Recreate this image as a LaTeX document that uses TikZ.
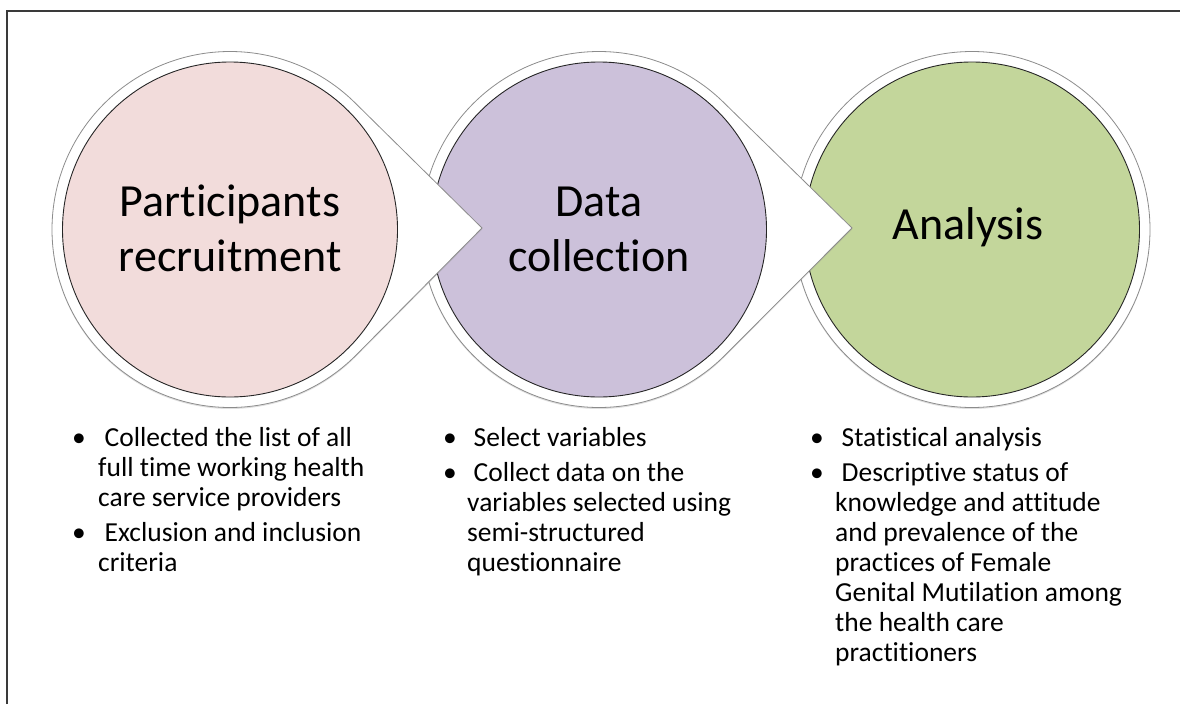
\documentclass[tikz,border=0pt]{standalone}
\usepackage{fontspec}
\setmainfont{Carlito}[Ligatures=NoCommon]
\usetikzlibrary{shadows}
\definecolor{pinkfill}{HTML}{F2DCDB}
\definecolor{purplefill}{HTML}{CCC1DA}
\definecolor{greenfill}{HTML}{C3D69B}
\definecolor{ringline}{HTML}{8C8C8C}
\definecolor{frameline}{HTML}{3A3A3A}
\begin{document}
\begin{tikzpicture}[x=1pt,y=-1pt,
  ringshape/.style={fill=white, draw=ringline, line width=0.8pt,
    drop shadow={opacity=0.25, shadow xshift=0pt, shadow yshift=-1.5pt}},
  innercircle/.style={draw=black!85, line width=0.9pt, circle, minimum size=335pt, inner sep=0pt},
  titletext/.style={font=\fontsize{46}{56}\selectfont, anchor=base, inner sep=0pt},
  linetext/.style={font=\fontsize{27.5}{30}\selectfont, anchor=base west, inner sep=0pt},
  bulletdot/.style={font=\fontsize{27.5}{30}\selectfont, anchor=base, inner sep=0pt},
]
\useasboundingbox (0,0) rectangle (1180,704);
% frame
\coordinate (fa) at (7,704);
\coordinate (fb) at (7,11);
\coordinate (fc) at (1180,11);
\draw[frameline, line width=1.3pt] (fa) -- (fb) -- (fc);

% centres and tips
\coordinate (c1) at (230,229.5);
\coordinate (c2) at (599,229.5);
\coordinate (c3) at (972,229.5);
\coordinate (t1) at (482,228);
\coordinate (t2) at (852,228);

% circle 3
\path[ringshape] (c3) circle[radius=178];
\node[innercircle, fill=greenfill] (n3) at (c3) {};
% circle 2 with pointer
\path[ringshape] (c2) ++(45:178) arc[start angle=45, end angle=315, radius=178] -- (t2) -- cycle;
\node[innercircle, fill=purplefill] (n2) at (c2) {};
% circle 1 with pointer
\path[ringshape] (c1) ++(45:178) arc[start angle=45, end angle=315, radius=178] -- (t1) -- cycle;
\node[innercircle, fill=pinkfill] (n1) at (c1) {};

% titles
\node[titletext] (h1a) at (230,216) {Participants};
\node[titletext] (h1b) at (230,271) {recruitment};
\node[titletext] (h2a) at (599,216) {Data};
\node[titletext] (h2b) at (599,271) {collection};
\node[titletext] (h3a) at (968,239) {Analysis};

% column 1
\node[bulletdot] (b11) at (79,446) {•};
\node[linetext] (l11) at (104.5,446) {Collected the list of all};
\node[linetext] (l12) at (98,476) {full time working health};
\node[linetext] (l13) at (98,506) {care service providers};
\node[bulletdot] (b12) at (79,541) {•};
\node[linetext] (l14) at (104.5,541) {Exclusion and inclusion};
\node[linetext] (l15) at (98,571) {criteria};

% column 2
\node[bulletdot] (b21) at (450,446) {•};
\node[linetext] (l21) at (473.5,446) {Select variables};
\node[bulletdot] (b22) at (450,481) {•};
\node[linetext] (l22) at (473.5,481) {Collect data on the};
\node[linetext] (l23) at (467,511) {variables selected using};
\node[linetext] (l24) at (467,541) {semi-structured};
\node[linetext] (l25) at (467,571) {questionnaire};

% column 3
\node[bulletdot] (b31) at (817,446) {•};
\node[linetext] (l31) at (841.5,446) {Statistical analysis};
\node[bulletdot] (b32) at (817,481) {•};
\node[linetext] (l32) at (841.5,481) {Descriptive status of};
\node[linetext] (l33) at (835,511) {knowledge and attitude};
\node[linetext] (l34) at (835,541) {and prevalence of the};
\node[linetext] (l35) at (835,571) {practices of Female};
\node[linetext] (l36) at (835,601) {Genital Mutilation among};
\node[linetext] (l37) at (835,631) {the health care};
\node[linetext] (l38) at (835,661) {practitioners};
\end{tikzpicture}
\end{document}
